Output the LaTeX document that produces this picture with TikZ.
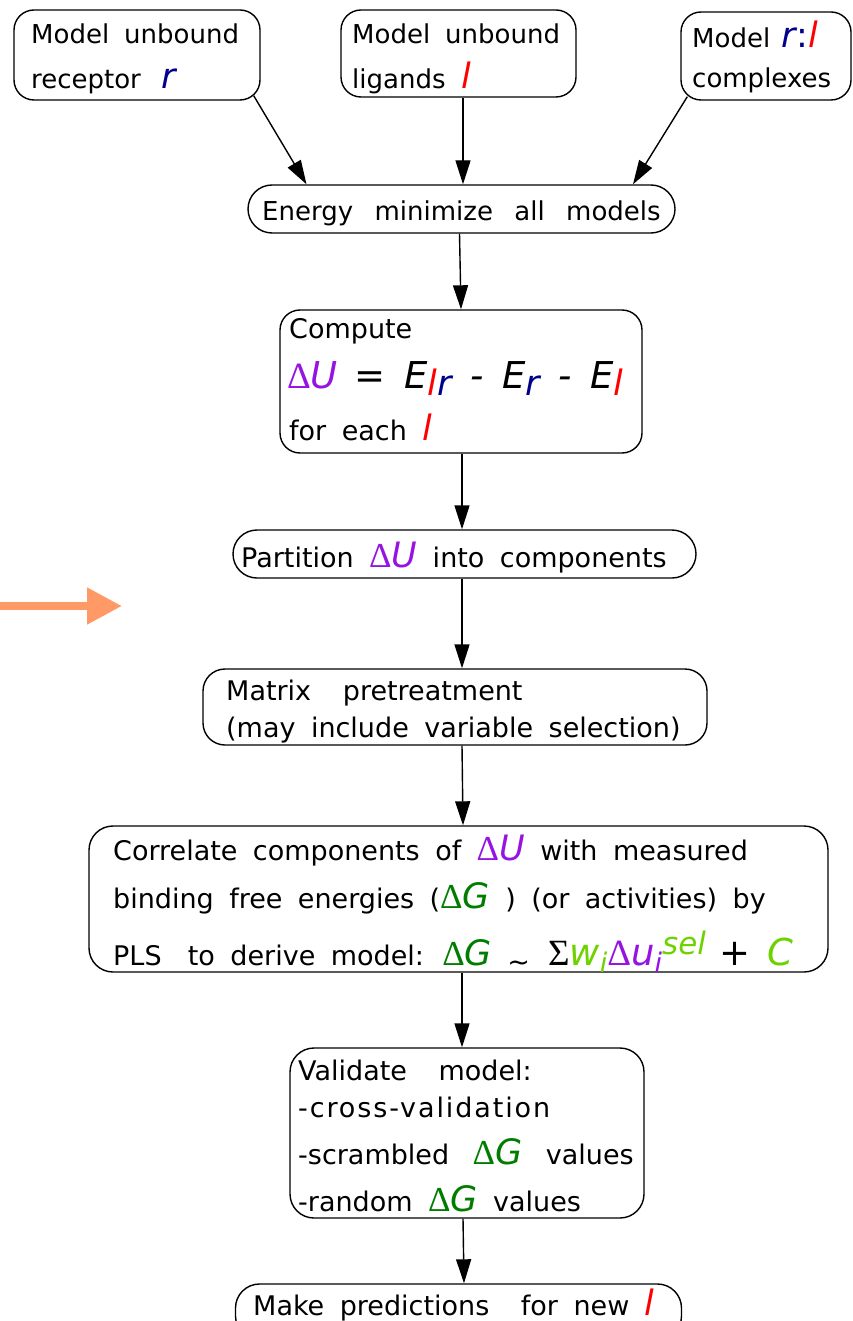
\documentclass[tikz,border=0pt]{standalone}
\usepackage{fontspec}
\setmainfont{DejaVu Sans}[WordSpace=1.8]
\newfontfamily\symf{Liberation Serif}
\usetikzlibrary{arrows.meta}
\definecolor{cpurple}{RGB}{150,20,225}
\definecolor{cblue}{RGB}{0,0,140}
\definecolor{cred}{RGB}{255,0,0}
\definecolor{cgreen}{RGB}{0,125,0}
\definecolor{clgreen}{RGB}{110,210,0}
\definecolor{corange}{RGB}{255,153,102}
\newcommand\bigf{\fontsize{35}{38}\selectfont}
\newcommand\vl{{\bigf\textcolor{cred}{\itshape l}}}
\newcommand\vr{{\bigf\textcolor{cblue}{\itshape r}}}
\newcommand\dU{{\bigf\textcolor{cpurple}{{\symf Δ}\itshape U}}}
\newcommand\dG{{\bigf\textcolor{cgreen}{{\symf Δ}\itshape G}}}
\newcommand\mysub[1]{\raisebox{-7pt}{#1}}
\begin{document}
\begin{tikzpicture}[x=1pt,y=-1pt,
  box/.style={draw, line width=1.4pt, rounded corners=20pt, inner sep=0pt},
  lbl/.style={anchor=base west, inner sep=0pt, font=\fontsize{27}{30}\selectfont},
  tlbl/.style={anchor=base west, inner sep=0pt, font=\fontsize{26}{30}\selectfont},
  arr/.style={line width=1.4pt, -{Triangle[length=24pt,width=15pt]}},
  oarr/.style={line width=8pt, draw=corange, -{Triangle[length=35pt,width=35pt]}, fill=corange}]
\useasboundingbox (0,0) rectangle (852,1321);
% boxes
\node[box, minimum width=246pt, minimum height=90pt] (b1) at (137,55) {};
\node[box, minimum width=235pt, minimum height=87pt] (b2) at (458.5,53.5) {};
\node[box, minimum width=170pt, minimum height=88pt] (b3) at (766,56) {};
\node[box, rounded corners=24pt, minimum width=427pt, minimum height=48pt] (en) at (461.5,209) {};
\node[box, minimum width=362pt, minimum height=143pt] (cmp) at (461,381.5) {};
\node[box, rounded corners=24pt, minimum width=463pt, minimum height=48pt] (part) at (464.5,554) {};
\node[box, rounded corners=22pt, minimum width=504pt, minimum height=76pt] (mat) at (455,707) {};
\node[box, rounded corners=24pt, minimum width=739pt, minimum height=146pt] (cor) at (458.5,899) {};
\node[box, rounded corners=24pt, minimum width=354pt, minimum height=170pt] (val) at (467,1133) {};
\node[box, rounded corners=24pt, minimum width=446pt, minimum height=56pt] (pred) at (458.5,1312) {};
% texts
\node[tlbl] (t1a) at (31,44) {Model unbound};
\node[tlbl] (t1b) at (31,89) {receptor\hspace{0.8em}\vr};
\node[tlbl] (t2a) at (352,44) {Model unbound};
\node[tlbl] (t2b) at (352,89) {ligands\hspace{0.6em}\vl};
\node[tlbl] (t3a) at (692,48) {Model\hspace{0.45em}\vr{\bigf\textcolor{cblue}{:}}\vl};
\node[tlbl] (t3b) at (692,88) {complexes};
\node[tlbl] (ten) at (262,221) {Energy\hspace{0.25em} minimize\hspace{0.25em} all\hspace{0.25em} models};
\node[lbl] (tc1) at (289,338) {Compute};
\node[lbl] (tc2) at (287,388) {{\fontsize{37}{38}\selectfont\textcolor{cpurple}{{\symf Δ}\itshape U}\hspace{0.45em}=\hspace{0.5em}\itshape E\mysub{\vl\vr}\hspace{0.5em}-\hspace{0.5em}E\mysub{\vr}\hspace{0.5em}-\hspace{0.5em}E\mysub{\vl}}};
\node[lbl] (tc3) at (289,440) {for each \vl};
\node[lbl] (tp) at (241,567) {Partition \dU\ into components};
\node[lbl] (tm1) at (226,700) {Matrix\hspace{0.6em} pretreatment};
\node[lbl] (tm2) at (226,737) {(may include variable selection)};
\node[lbl] (tk1) at (113,860) {Correlate components of \dU\ with measured};
\node[lbl] (tk2) at (113,908) {binding free energies (\dG\ ) (or activities) by};
\node[lbl] (tk3) at (113,965) {PLS\hspace{0.4em} to derive model: \dG\ \raisebox{-6pt}{\textasciitilde}\ \hspace{0.1em}{\fontsize{37}{38}\selectfont{\symf Σ}\textcolor{clgreen}{\itshape w\mysub{\fontsize{27}{27}\selectfont i}}\textcolor{cpurple}{{\symf Δ}\itshape u\mysub{\fontsize{27}{27}\selectfont i}}\textcolor{clgreen}{\raisebox{11pt}{\fontsize{31}{31}\selectfont\itshape sel}}}\hspace{0.5em}{\fontsize{37}{38}\selectfont +\hspace{0.45em}\textcolor{clgreen}{\itshape C}}};
\node[lbl] (tv1) at (298,1080) {Validate\hspace{0.6em} model:};
\node[lbl] (tv2) at (298,1117) {\addfontfeature{LetterSpace=7}-cross-validation};
\node[lbl] (tv3) at (298,1164) {-scrambled\hspace{0.3em} \dG\hspace{0.3em} values};
\node[lbl] (tv4) at (298,1211) {-random \dG\ values};
\node[lbl] (tpr) at (253,1315) {Make predictions\hspace{0.6em} for new \vl};
% connectors
\draw[arr] ([shift={(-7,-5)}]b1.south east) -- ([xshift=-155pt]en.north);
\draw[arr] ([xshift=4.5pt]b2.south) -- ([xshift=1.5pt]en.north);
\draw[arr] ([shift={(7,-4)}]b3.south west) -- ([xshift=171.5pt]en.north);
\draw[arr] ([xshift=-2pt]en.south) -- (cmp.north);
\draw[arr] ([xshift=1pt]cmp.south) -- ([xshift=-2.5pt]part.north);
\draw[arr] ([xshift=-2.5pt]part.south) -- ([xshift=-2.5pt]part.south |- mat.north);
\draw[arr] ([xshift=7pt]mat.south) -- ([xshift=4.5pt]cor.north);
\draw[arr] ([xshift=3.5pt]cor.south) -- ([xshift=3.5pt]cor.south |- val.north);
\draw[arr] ([xshift=-4pt]val.south) -- ([xshift=5.5pt]pred.north);
% orange arrow
\coordinate (oa) at (0,606);
\coordinate (ob) at (122,606);
\draw[oarr] (oa) -- (ob);
\end{tikzpicture}
\end{document}
